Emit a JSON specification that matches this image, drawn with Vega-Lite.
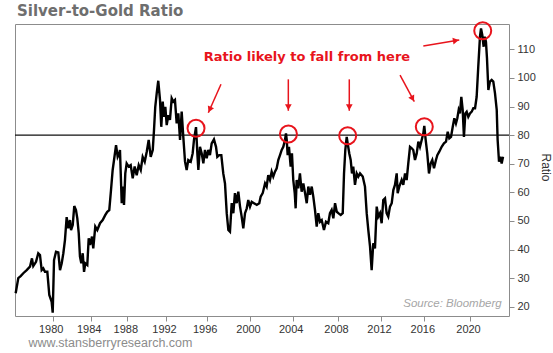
{
  "$schema": "https://vega.github.io/schema/vega-lite/v6.json",
  "autosize": {"type": "none"},
  "width": 494,
  "height": 292,
  "padding": {"left": 15, "top": 24, "right": 44, "bottom": 37},
  "background": "white",
  "config": {"view": {"stroke": "#8c8c8c", "strokeWidth": 1}},
  "datasets": {
    "series": [
      {"year":1976.07,"value":24.7},{"year":1976.35,"value":30.0},{"year":1976.60,"value":30.7},{"year":1976.88,"value":31.7},{"year":1977.24,"value":32.8},{"year":1977.59,"value":34.0},{"year":1977.80,"value":36.9},{"year":1977.94,"value":34.2},{"year":1978.23,"value":35.7},{"year":1978.47,"value":38.7},{"year":1978.65,"value":38.1},{"year":1978.83,"value":32.8},{"year":1979.00,"value":33.4},{"year":1979.18,"value":32.2},{"year":1979.43,"value":32.2},{"year":1979.64,"value":24.1},{"year":1979.89,"value":21.7},{"year":1980.00,"value":17.9},
      {"year":1980.14,"value":36.3},{"year":1980.35,"value":39.2},{"year":1980.59,"value":39.0},{"year":1980.77,"value":32.8},{"year":1980.95,"value":35.2},{"year":1981.12,"value":38.7},{"year":1981.29,"value":43.3},{"year":1981.47,"value":51.3},{"year":1981.64,"value":47.4},{"year":1981.82,"value":50.3},{"year":1981.93,"value":46.8},{"year":1982.11,"value":48.6},{"year":1982.27,"value":55.2},{"year":1982.45,"value":53.8},{"year":1982.59,"value":50.9},{"year":1982.74,"value":45.7},{"year":1982.87,"value":37.5},{"year":1983.01,"value":35.2},{"year":1983.16,"value":38.7},{"year":1983.30,"value":32.2},{"year":1983.43,"value":35.2},{"year":1983.64,"value":34.6},{"year":1983.79,"value":43.9},{"year":1983.93,"value":41.6},
      {"year":1984.14,"value":44.5},{"year":1984.28,"value":40.4},{"year":1984.50,"value":48.0},{"year":1984.72,"value":46.8},{"year":1985.02,"value":49.2},{"year":1985.31,"value":50.3},{"year":1985.60,"value":52.1},{"year":1985.81,"value":53.2},{"year":1986.03,"value":53.8},{"year":1986.22,"value":60.8},{"year":1986.40,"value":67.8},{"year":1986.55,"value":71.3},{"year":1986.77,"value":76.5},{"year":1986.95,"value":72.4},{"year":1987.13,"value":73.6},{"year":1987.20,"value":74.8},{"year":1987.39,"value":56.2},{"year":1987.50,"value":62.0},{"year":1987.64,"value":55.6},{"year":1987.78,"value":66.6},{"year":1987.93,"value":70.1},
      {"year":1988.14,"value":69.0},{"year":1988.35,"value":69.5},{"year":1988.56,"value":64.9},{"year":1988.76,"value":69.0},{"year":1988.97,"value":66.0},{"year":1989.18,"value":69.5},{"year":1989.39,"value":67.8},{"year":1989.59,"value":72.4},{"year":1989.80,"value":70.7},{"year":1990.01,"value":74.2},{"year":1990.21,"value":78.3},{"year":1990.42,"value":72.4},{"year":1990.63,"value":74.8},{"year":1990.76,"value":81.8},{"year":1990.89,"value":89.9},{"year":1991.04,"value":94.6},{"year":1991.20,"value":99.0},{"year":1991.38,"value":92.3},{"year":1991.51,"value":82.9},{"year":1991.66,"value":91.7},{"year":1991.79,"value":86.4},{"year":1991.93,"value":89.9},
      {"year":1992.07,"value":83.5},{"year":1992.23,"value":87.0},{"year":1992.39,"value":85.3},{"year":1992.56,"value":92.9},{"year":1992.72,"value":91.7},{"year":1992.88,"value":92.3},{"year":1993.05,"value":84.1},{"year":1993.21,"value":87.6},{"year":1993.38,"value":78.3},{"year":1993.54,"value":88.2},{"year":1993.70,"value":79.4},{"year":1993.87,"value":70.7},{"year":1994.03,"value":67.8},{"year":1994.19,"value":71.3},{"year":1994.43,"value":70.7},{"year":1994.62,"value":73.6},{"year":1994.75,"value":78.3},{"year":1994.95,"value":82.8},{"year":1995.10,"value":72.4},{"year":1995.18,"value":67.8},{"year":1995.34,"value":75.9},{"year":1995.51,"value":73.6},{"year":1995.67,"value":70.1},{"year":1995.83,"value":74.8},
      {"year":1996.00,"value":71.9},{"year":1996.15,"value":74.8},{"year":1996.30,"value":73.0},{"year":1996.46,"value":77.1},{"year":1996.67,"value":78.5},{"year":1996.86,"value":75.9},{"year":1996.98,"value":72.4},{"year":1997.16,"value":73.0},{"year":1997.35,"value":73.0},{"year":1997.53,"value":66.6},{"year":1997.69,"value":63.1},{"year":1997.85,"value":52.7},{"year":1998.00,"value":46.8},{"year":1998.15,"value":46.2},{"year":1998.31,"value":56.2},{"year":1998.46,"value":52.7},{"year":1998.61,"value":59.7},{"year":1998.77,"value":56.2},{"year":1998.92,"value":60.2},{"year":1999.08,"value":55.0},{"year":1999.23,"value":51.5},{"year":1999.38,"value":47.4},{"year":1999.54,"value":52.7},{"year":1999.70,"value":54.4},{"year":1999.84,"value":57.3},
      {"year":2000.00,"value":55.0},{"year":2000.16,"value":56.7},{"year":2000.37,"value":56.2},{"year":2000.63,"value":55.6},{"year":2000.87,"value":56.2},{"year":2001.00,"value":58.5},{"year":2001.19,"value":59.7},{"year":2001.41,"value":63.1},{"year":2001.56,"value":62.0},{"year":2001.71,"value":66.0},{"year":2001.87,"value":64.3},{"year":2002.03,"value":67.2},{"year":2002.18,"value":65.5},{"year":2002.34,"value":67.2},{"year":2002.50,"value":68.4},{"year":2002.65,"value":71.3},{"year":2002.81,"value":73.0},{"year":2002.97,"value":74.8},{"year":2003.12,"value":75.9},{"year":2003.28,"value":78.3},{"year":2003.37,"value":80.6},{"year":2003.44,"value":78.3},{"year":2003.53,"value":73.0},{"year":2003.65,"value":75.9},{"year":2003.81,"value":69.0},{"year":2003.93,"value":73.6},
      {"year":2004.05,"value":64.3},{"year":2004.18,"value":59.7},{"year":2004.26,"value":54.4},{"year":2004.35,"value":64.3},{"year":2004.49,"value":61.4},{"year":2004.64,"value":66.6},{"year":2004.79,"value":60.2},{"year":2004.94,"value":63.1},{"year":2005.09,"value":59.7},{"year":2005.24,"value":56.2},{"year":2005.38,"value":62.0},{"year":2005.53,"value":59.1},{"year":2005.68,"value":62.0},{"year":2005.82,"value":58.5},{"year":2005.97,"value":53.8},{"year":2006.12,"value":48.0},{"year":2006.26,"value":52.7},{"year":2006.41,"value":49.7},{"year":2006.56,"value":50.3},{"year":2006.76,"value":46.8},{"year":2006.94,"value":49.7},{"year":2007.14,"value":49.2},{"year":2007.29,"value":52.7},{"year":2007.44,"value":53.8},{"year":2007.59,"value":50.9},{"year":2007.74,"value":56.2},{"year":2007.89,"value":53.2},
      {"year":2008.03,"value":52.7},{"year":2008.25,"value":52.1},{"year":2008.44,"value":52.7},{"year":2008.56,"value":66.6},{"year":2008.68,"value":74.8},{"year":2008.81,"value":79.4},{"year":2008.90,"value":77.1},{"year":2009.05,"value":73.6},{"year":2009.18,"value":71.3},{"year":2009.30,"value":66.6},{"year":2009.42,"value":69.0},{"year":2009.58,"value":62.6},{"year":2009.74,"value":66.6},{"year":2009.89,"value":65.5},{"year":2010.05,"value":66.6},{"year":2010.30,"value":65.5},{"year":2010.51,"value":62.0},{"year":2010.67,"value":52.7},{"year":2010.82,"value":46.8},{"year":2010.98,"value":41.0},{"year":2011.13,"value":32.8},{"year":2011.28,"value":42.2},{"year":2011.44,"value":40.4},{"year":2011.60,"value":55.0},{"year":2011.75,"value":51.5},{"year":2011.91,"value":52.7},
      {"year":2012.06,"value":49.2},{"year":2012.21,"value":57.3},{"year":2012.37,"value":57.9},{"year":2012.52,"value":52.7},{"year":2012.67,"value":51.5},{"year":2012.83,"value":55.0},{"year":2012.99,"value":56.2},{"year":2013.14,"value":60.8},{"year":2013.29,"value":62.6},{"year":2013.45,"value":66.6},{"year":2013.54,"value":59.7},{"year":2013.69,"value":62.0},{"year":2013.91,"value":64.3},{"year":2014.06,"value":62.6},{"year":2014.22,"value":66.6},{"year":2014.37,"value":64.3},{"year":2014.52,"value":70.1},{"year":2014.68,"value":75.9},{"year":2014.84,"value":75.4},{"year":2014.98,"value":74.8},{"year":2015.14,"value":71.3},{"year":2015.30,"value":73.6},{"year":2015.45,"value":77.7},{"year":2015.60,"value":75.9},{"year":2015.76,"value":78.3},{"year":2015.91,"value":80.6},
      {"year":2016.00,"value":83.2},{"year":2016.12,"value":78.3},{"year":2016.26,"value":73.6},{"year":2016.41,"value":66.6},{"year":2016.56,"value":70.1},{"year":2016.70,"value":71.3},{"year":2016.85,"value":68.4},{"year":2017.02,"value":71.3},{"year":2017.14,"value":73.0},{"year":2017.31,"value":74.2},{"year":2017.52,"value":75.9},{"year":2017.72,"value":77.1},{"year":2017.90,"value":77.7},{"year":2018.05,"value":81.2},{"year":2018.19,"value":78.9},{"year":2018.34,"value":79.4},{"year":2018.49,"value":82.9},{"year":2018.63,"value":85.9},{"year":2018.77,"value":84.1},{"year":2018.89,"value":85.9},{"year":2019.01,"value":88.8},{"year":2019.12,"value":87.6},{"year":2019.24,"value":93.4},{"year":2019.36,"value":88.8},{"year":2019.47,"value":79.4},{"year":2019.59,"value":87.6},{"year":2019.71,"value":88.2},{"year":2019.85,"value":86.4},
      {"year":2020.00,"value":87.6},{"year":2020.15,"value":88.2},{"year":2020.29,"value":89.4},{"year":2020.44,"value":89.4},{"year":2020.58,"value":93.4},{"year":2020.72,"value":103.9},{"year":2020.87,"value":114.4},{"year":2020.96,"value":117.3},{"year":2021.07,"value":115.0},{"year":2021.19,"value":110.9},{"year":2021.28,"value":114.4},{"year":2021.39,"value":112.7},{"year":2021.48,"value":106.9},{"year":2021.60,"value":95.8},{"year":2021.74,"value":98.7},{"year":2021.89,"value":99.3},{"year":2022.03,"value":98.7},{"year":2022.18,"value":94.6},{"year":2022.33,"value":88.8},{"year":2022.41,"value":78.3},{"year":2022.53,"value":70.7},{"year":2022.64,"value":72.4},{"year":2022.76,"value":70.1},{"year":2022.88,"value":72.4}
    ],
    "refline": [{"year": 1976, "year2": 2023.4, "value": 80}],
    "circles": [
      {"year": 1994.95, "value": 82.4},
      {"year": 2003.6, "value": 80.4},
      {"year": 2008.9, "value": 79.8},
      {"year": 2016.0, "value": 82.9},
      {"year": 2021.11, "value": 116.5}
    ],
    "arrows": [
      {"id": "a1", "year": 1997.32, "value": 97.76, "year2": 1996.15, "value2": 87.83},
      {"id": "a2", "year": 2003.59, "value": 99.5, "year2": 2003.59, "value2": 88.5},
      {"id": "a3", "year": 2009.05, "value": 99.5, "year2": 2009.05, "value2": 88.5},
      {"id": "a4", "year": 2013.76, "value": 101.0, "year2": 2015.08, "value2": 91.68},
      {"id": "a5", "year": 2015.91, "value": 111.15, "year2": 2019.06, "value2": 113.25}
    ],
    "heads": [
      {"id": "a1", "year": 1996.28, "value": 88.95},
      {"id": "a2", "year": 2003.59, "value": 89.75},
      {"id": "a3", "year": 2009.05, "value": 89.75},
      {"id": "a4", "year": 2014.92, "value": 92.76},
      {"id": "a5", "year": 2018.76, "value": 113.05}
    ],
    "heading": [{"year": 1976.21, "value": 121.64, "label": "Silver-to-Gold Ratio"}],
    "note": [{"year": 2005.26, "value": 107.4, "label": "Ratio likely to fall from here"}],
    "source": [{"year": 2022.76, "value": 20.94, "label": "Source: Bloomberg"}]
  },
  "encoding": {
    "x": {
      "field": "year", "type": "quantitative",
      "scale": {"domain": [1976, 1980, 1984, 1988, 1992, 1996, 2000, 2004, 2008, 2012, 2016, 2020, 2023.4], "range": [0, 37.7, 75.7, 112.3, 151, 191.7, 235, 277.7, 323, 366, 409.3, 455, 494], "zero": false, "nice": false},
      "axis": {"values": [1980, 1984, 1988, 1992, 1996, 2000, 2004, 2008, 2012, 2016, 2020], "format": "d", "labelFont": "Liberation Sans", "labelFontSize": 11, "labelColor": "#333333", "labelFlush": false, "labelOffset": -2, "labelPadding": 2, "tickColor": "#8c8c8c", "tickSize": 5, "domain": false, "grid": false, "title": "www.stansberryresearch.com", "titleFont": "Liberation Sans", "titleFontSize": 12.5, "titleFontWeight": "normal", "titleColor": "#8c8c8c", "titleX": 13, "titleY": 26, "titleAlign": "left", "titleBaseline": "middle", "titleAngle": 0}
    },
    "y": {
      "field": "value", "type": "quantitative",
      "scale": {"domain": [16.75, 118.85], "zero": false, "nice": false},
      "axis": {"orient": "right", "values": [20, 30, 40, 50, 60, 70, 80, 90, 100, 110], "labelFont": "Liberation Sans", "labelFontSize": 11, "labelColor": "#333333", "labelPadding": 3, "tickColor": "#8c8c8c", "tickSize": 5, "domain": false, "grid": false, "title": "Ratio", "titleFont": "Liberation Sans", "titleFontSize": 12, "titleFontWeight": "normal", "titleColor": "#333333", "titleAngle": 90, "titleX": 36, "titleY": 143, "titleAlign": "center", "titleBaseline": "middle"}
    }
  },
  "layer": [
    {"data": {"name": "refline"}, "mark": {"type": "rule", "color": "#111111", "strokeWidth": 1.2}, "encoding": {"x2": {"field": "year2"}}},
    {"data": {"name": "series"}, "mark": {"type": "line", "color": "#000000", "strokeWidth": 2.4}},
    {"data": {"name": "circles"}, "mark": {"type": "point", "shape": "circle", "filled": false, "stroke": "#e8141c", "strokeWidth": 2, "size": 289, "opacity": 1}},
    {"data": {"name": "arrows"}, "mark": {"type": "rule", "color": "#e8141c", "strokeWidth": 1.5}, "encoding": {"x2": {"field": "year2"}, "y2": {"field": "value2"}}},
    {"data": {"name": "heads"}, "transform": [{"filter": "datum.id === 'a1'"}], "mark": {"type": "point", "shape": "triangle-up", "filled": true, "color": "#e8141c", "size": 45, "angle": 204, "opacity": 1}},
    {"data": {"name": "heads"}, "transform": [{"filter": "datum.id === 'a2' || datum.id === 'a3'"}], "mark": {"type": "point", "shape": "triangle-up", "filled": true, "color": "#e8141c", "size": 45, "angle": 180, "opacity": 1}},
    {"data": {"name": "heads"}, "transform": [{"filter": "datum.id === 'a4'"}], "mark": {"type": "point", "shape": "triangle-up", "filled": true, "color": "#e8141c", "size": 45, "angle": 152, "opacity": 1}},
    {"data": {"name": "heads"}, "transform": [{"filter": "datum.id === 'a5'"}], "mark": {"type": "point", "shape": "triangle-up", "filled": true, "color": "#e8141c", "size": 45, "angle": 80.5, "opacity": 1}},
    {"data": {"name": "heading"}, "mark": {"type": "text", "font": "DejaVu Sans", "fontSize": 15, "fontWeight": "bold", "color": "#6e6e6e", "align": "left", "baseline": "alphabetic"}, "encoding": {"text": {"field": "label"}}},
    {"data": {"name": "note"}, "mark": {"type": "text", "font": "DejaVu Sans", "fontSize": 13, "fontWeight": "bold", "color": "#e8141c", "align": "center", "baseline": "middle"}, "encoding": {"text": {"field": "label"}}},
    {"data": {"name": "source"}, "mark": {"type": "text", "font": "Liberation Sans", "fontSize": 11.5, "fontStyle": "italic", "color": "#a6a6a6", "align": "right", "baseline": "middle"}, "encoding": {"text": {"field": "label"}}}
  ]
}
